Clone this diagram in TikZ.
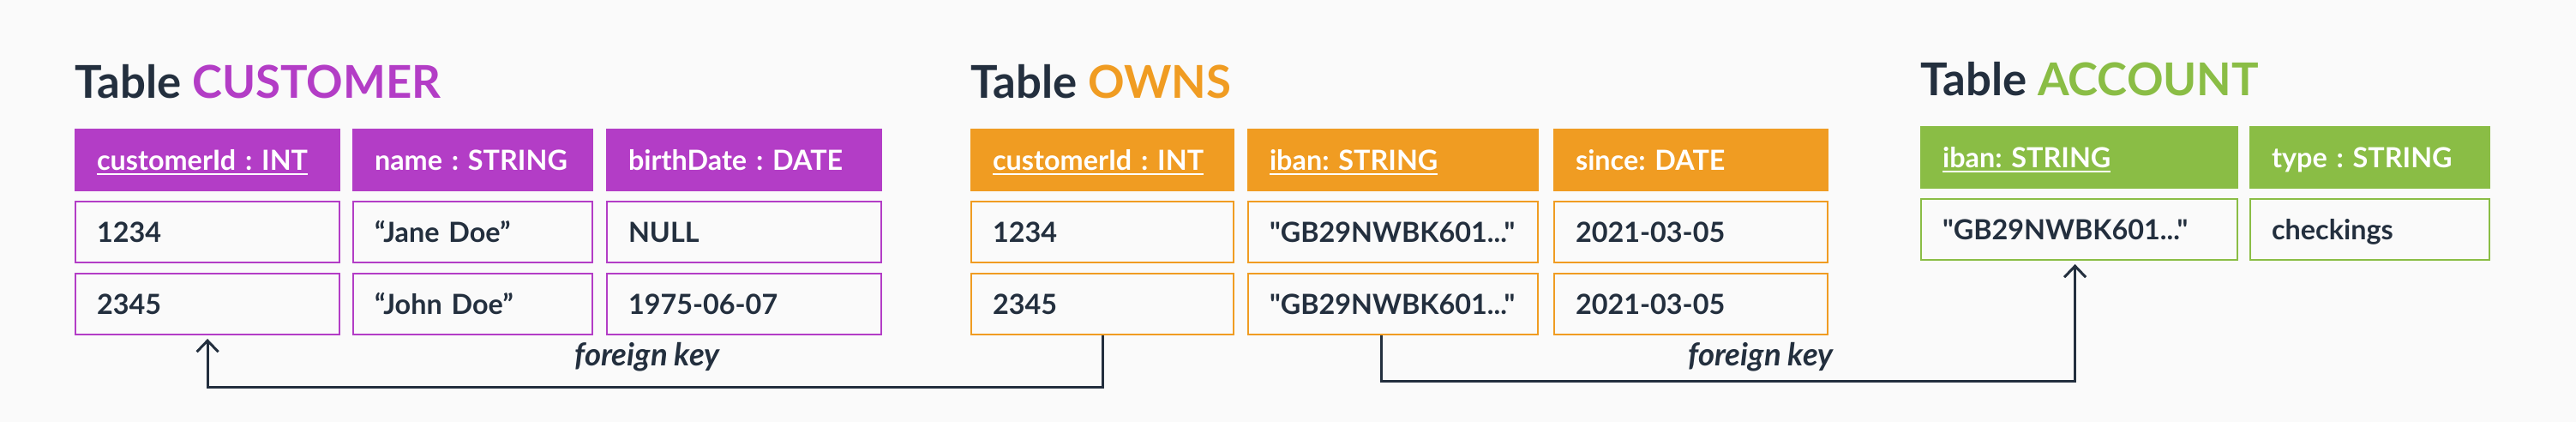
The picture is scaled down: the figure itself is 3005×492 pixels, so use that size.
\documentclass[tikz,border=0pt]{standalone}
\usepackage{fontspec}
\setmainfont[Ligatures=TeXOff]{Lato}
\usetikzlibrary{arrows.meta}

\definecolor{ink}{HTML}{232F3E}
\definecolor{cuscol}{HTML}{B33DC6}
\definecolor{owncol}{HTML}{F09C22}
\definecolor{acccol}{HTML}{8ABD45}
\definecolor{bgcol}{HTML}{FAFAFA}

\newcommand{\pkey}[1]{\underline{#1}}

\tikzset{
	tabtitle/.style={anchor=base west, inner sep=0pt, text=ink,
		font=\fontsize{15pt}{18pt}\selectfont\bfseries},
	cell/.style={anchor=north west, inner xsep=0.25cm, inner ysep=0pt,
		minimum height=0.71cm, text height=0.23cm, text depth=0pt, align=left,
		line width=0.02cm, font=\fontsize{9.2pt}{11pt}\selectfont\bfseries\frenchspacing},
	hcell/.style={cell, fill=#1, draw=#1, text=white},
	dcell/.style={cell, fill=bgcol, draw=#1, text=ink},
	fk/.style={draw=ink, line width=0.03cm, -{Straight Barb[length=0.13cm, width=0.25cm]}, shorten >=0.04cm},
	fklab/.style={anchor=base, inner sep=0pt, text=ink,
		font=\fontsize{10.4pt}{12pt}\selectfont\bfseries\itshape}
}

\begin{document}
\begin{tikzpicture}[x=0.01cm,y=-0.01cm]
	%%%%% background %%%%%
	\fill[bgcol] (0,0) rectangle (3005,492);
	
	%%%%% CUSTOMER %%%%%
	\node[tabtitle] (custitle) at (87,115) {Table \textcolor{cuscol}{CUSTOMER}};
	
	\node[hcell=cuscol, text width=2.58cm] (cush1) at (87,150) {\pkey{customerId : INT}};
	\node[hcell=cuscol, text width=2.29cm] (cush2) at (411,150) {name : STRING};
	\node[hcell=cuscol, text width=2.70cm] (cush3) at (707,150) {birthDate : DATE};
	
	\node[dcell=cuscol, text width=2.58cm] (cus11) at (87,234) {1234};
	\node[dcell=cuscol, text width=2.29cm] (cus12) at (411,234) {“Jane Doe”};
	\node[dcell=cuscol, text width=2.70cm] (cus13) at (707,234) {NULL};
	
	\node[dcell=cuscol, text width=2.58cm] (cus21) at (87,318) {2345};
	\node[dcell=cuscol, text width=2.29cm] (cus22) at (411,318) {“John Doe”};
	\node[dcell=cuscol, text width=2.70cm] (cus23) at (707,318) {1975-06-07};
	
	%%%%% OWNS %%%%%
	\node[tabtitle] (owntitle) at (1132,115) {Table \textcolor{owncol}{OWNS}};
	
	\node[hcell=owncol, text width=2.56cm] (ownh1) at (1132,150) {\pkey{customerId : INT}};
	\node[hcell=owncol, text width=2.88cm] (ownh2) at (1455,150) {\pkey{iban: STRING}};
	\node[hcell=owncol, text width=2.69cm] (ownh3) at (1812,150) {since: DATE};
	
	\node[dcell=owncol, text width=2.56cm] (own11) at (1132,234) {1234};
	\node[dcell=owncol, text width=2.88cm] (own12) at (1455,234) {"GB29NWBK601..."};
	\node[dcell=owncol, text width=2.69cm] (own13) at (1812,234) {2021-03-05};
	
	\node[dcell=owncol, text width=2.56cm] (own21) at (1132,318) {2345};
	\node[dcell=owncol, text width=2.88cm] (own22) at (1455,318) {"GB29NWBK601..."};
	\node[dcell=owncol, text width=2.69cm] (own23) at (1812,318) {2021-03-05};
	
	%%%%% ACCOUNT %%%%%
	\node[tabtitle] (acctitle) at (2240,112) {Table \textcolor{acccol}{ACCOUNT}};
	
	\node[hcell=acccol, text width=3.19cm] (acch1) at (2240,147) {\pkey{iban: STRING}};
	\node[hcell=acccol, text width=2.29cm] (acch2) at (2624,147) {type : STRING};
	
	\node[dcell=acccol, text width=3.19cm] (acc11) at (2240,231) {"GB29NWBK601..."};
	\node[dcell=acccol, text width=2.29cm] (acc12) at (2624,231) {checkings};
	
	%%%%% foreign keys %%%%%
	\draw[fk] (own21.south) -- ++(0,60) -| (cus21.south);
	\node[fklab] (fk1) at (755,427) {foreign key};
	
	\draw[fk] ([xshift=-0.14cm]own22.south) -- ++(0,53) -| ([xshift=-0.05cm]acc11.south);
	\node[fklab] (fk2) at (2054,427) {foreign key};
\end{tikzpicture}
\end{document}
